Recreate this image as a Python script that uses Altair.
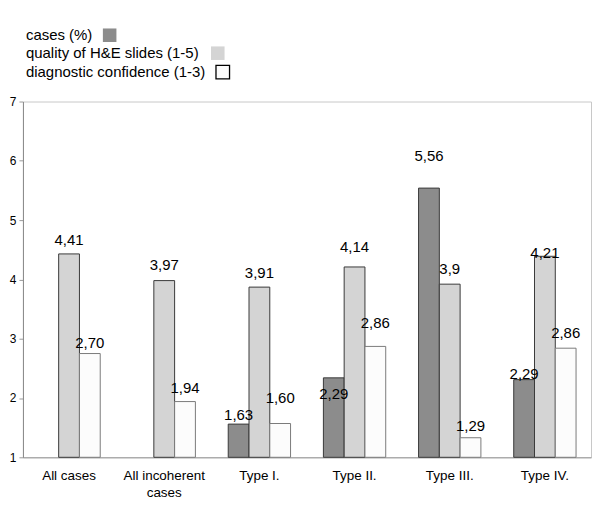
import altair as alt
import pandas as pd

# ---------------- data ----------------
categories = ["All cases", "All incoherent cases", "Type I.", "Type II.", "Type III.", "Type IV."]
series = ["cases (%)", "quality of H&E slides (1-5)", "diagnostic confidence (1-3)"]

cases_vals = [None, None, 1.56, 2.34, 5.54, 2.31]
quality_vals = [4.43, 3.98, 3.87, 4.21, 3.92, 4.39]
confidence_vals = [2.75, 1.94, 1.57, 2.87, 1.33, 2.84]

cases_labels = [None, None, "1,63", "2,29", "5,56", "2,29"]
quality_labels = ["4,41", "3,97", "3,91", "4,14", "3,9", "4,21"]
confidence_labels = ["2,70", "1,94", "1,60", "2,86", "1,29", "2,86"]

# ---------------- styles ----------------
FONT = "Liberation Sans"
fill_colors = ["#8c8c8c", "#d4d4d4", "#fcfcfc"]
stroke_colors = ["#3a3a3a", "#3a3a3a", "#7a7a7a"]
# label vertical offsets in pixels (relative to bar top), per series
cases_dy = [0, 0, -9, 16, -32, -6]
quality_dy = [-14, -16, -14, -20, -15, -3]
confidence_dy = [-11, -14, -26, -23, -12, -15]

rows = []
for vals, labs, dys, s in [
    (cases_vals, cases_labels, cases_dy, series[0]),
    (quality_vals, quality_labels, quality_dy, series[1]),
    (confidence_vals, confidence_labels, confidence_dy, series[2]),
]:
    for c, v, l, d in zip(categories, vals, labs, dys):
        if v is not None:
            rows.append({"category": c, "series": s, "value": v, "label": l, "dy": d})
df = pd.DataFrame(rows)

PLOT_W = 570

x_enc = alt.X(
    "category:N",
    sort=categories,
    title=None,
    scale=alt.Scale(paddingInner=0.345, paddingOuter=0.157),
    axis=alt.Axis(
        labelAngle=0,
        ticks=False,
        domainColor="#9a9a9a",
        labelFont=FONT,
        labelFontSize=13.5,
        labelColor="#000000",
        labelPadding=11,
        labelLineHeight=17,
        labelBaseline="top",
        labelExpr="datum.label == 'All incoherent cases' ? ['All incoherent', 'cases'] : datum.label",
    ),
)
xoff_enc = alt.XOffset("series:N", sort=series, scale=alt.Scale(domain=series, paddingInner=0, paddingOuter=0))
y_enc = alt.Y(
    "value:Q",
    title=None,
    scale=alt.Scale(domain=[1, 7], nice=False, zero=False),
    axis=alt.Axis(
        values=[1, 2, 3, 4, 5, 6, 7],
        grid=False,
        tickSize=4,
        tickColor="#9a9a9a",
        domainColor="#8a8a8a",
        labelFont=FONT,
        labelFontSize=12,
        labelColor="#000000",
        labelPadding=3,
    ),
)

bars = alt.Chart(df).mark_bar(strokeWidth=1).encode(
    x=x_enc,
    xOffset=xoff_enc,
    y=y_enc,
    y2=alt.datum(1),
    color=alt.Color("series:N", scale=alt.Scale(domain=series, range=fill_colors), legend=None),
    stroke=alt.Stroke("series:N", scale=alt.Scale(domain=series, range=stroke_colors), legend=None),
)

layers = [bars]
for d in sorted(df["dy"].unique()):
    layers.append(
        alt.Chart(df)
        .transform_filter(alt.datum.dy == int(d))
        .mark_text(font=FONT, fontSize=15, color="#000000", baseline="middle", dy=int(d))
        .encode(x=x_enc, xOffset=xoff_enc, y=y_enc, text="label:N")
    )

main = alt.layer(*layers).properties(width=PLOT_W, height=357, view=alt.ViewBackground(stroke="#c8c8c8"))

# ---------------- custom legend ----------------
leg_df = pd.DataFrame({"series": series})
row_y = [26.5, 44.5, 63.5]
sym_x = [87, 195.5, 200.5]
leg_layers = []
for s, fc, xv, yv in zip(series, fill_colors, sym_x, row_y):
    is_white = s == series[2]
    base = alt.Chart(leg_df).transform_filter(alt.datum.series == s)
    leg_layers.append(
        base.mark_text(font=FONT, fontSize=15, align="left", baseline="middle", color="#000000").encode(
            x=alt.value(3), y=alt.value(yv), text="series:N"
        )
    )
    leg_layers.append(
        base.mark_square(
            size=185,
            opacity=1,
            filled=True,
            fill=fc,
            stroke="#000000" if is_white else fc,
            strokeWidth=1.3 if is_white else 0,
        ).encode(x=alt.value(xv), y=alt.value(yv))
    )

legend = alt.layer(*leg_layers).properties(width=PLOT_W, height=80, view=alt.ViewBackground(stroke=None))

chart = alt.vconcat(legend, main, spacing=6).properties(padding=0)

chart.save("out.html", embed_options={"renderer": "svg", "actions": False})
